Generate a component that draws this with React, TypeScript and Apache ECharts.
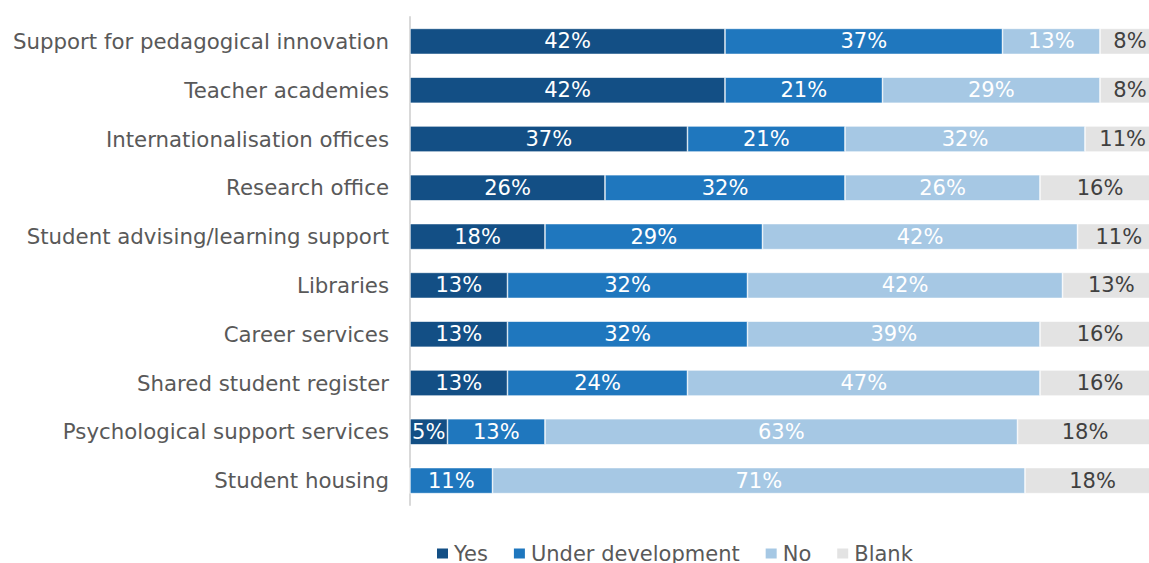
import React, { useEffect, useRef } from "react";
import * as echarts from "echarts";

const categories = [
  "Support for pedagogical innovation",
  "Teacher academies",
  "Internationalisation offices",
  "Research office",
  "Student advising/learning support",
  "Libraries",
  "Career services",
  "Shared student register",
  "Psychological support services",
  "Student housing",
];

const seriesNames = ["Yes", "Under development", "No", "Blank"];
const yesValues = [42, 42, 37, 26, 18, 13, 13, 13, 5, 0];
const underDevValues = [37, 21, 21, 32, 29, 32, 32, 24, 13, 11];
const noValues = [13, 29, 32, 26, 42, 42, 39, 47, 63, 71];
const blankValues = [8, 8, 11, 16, 11, 13, 16, 16, 18, 18];

const colors = ["#134f85", "#1f77be", "#a6c8e4", "#e3e3e3"];
const labelColors = ["#ffffff", "#ffffff", "#ffffff", "#404040"];

export default function App() {
  const ref = useRef<HTMLDivElement>(null);
  useEffect(() => {
    document.body.style.margin = "0";
    document.body.style.overflow = "hidden";
    const chart = echarts.init(ref.current!, null, { renderer: "svg" });
    const values = [yesValues, underDevValues, noValues, blankValues];
    chart.setOption({
      animation: false,
      textStyle: { fontFamily: "DejaVu Sans" },
      grid: { left: 410, right: 0, top: 17, bottom: 58, containLabel: false },
      legend: {
        top: 543,
        left: 435,
        padding: 0,
        icon: "rect",
        itemWidth: 13,
        itemHeight: 12,
        itemGap: 24,
        textStyle: { fontSize: 21, color: "#595959", fontFamily: "DejaVu Sans" },
        data: seriesNames,
      },
      xAxis: {
        type: "value",
        min: 0,
        max: 100,
        show: false,
      },
      yAxis: {
        type: "category",
        inverse: true,
        data: categories,
        axisTick: { show: false },
        axisLine: { show: true, lineStyle: { color: "#d9d9d9", width: 2 } },
        axisLabel: { color: "#595959", fontSize: 21.3, margin: 21, fontFamily: "DejaVu Sans" },
        splitLine: { show: false },
      },
      series: seriesNames.map((name, i) => ({
        name,
        type: "bar",
        stack: "total",
        barWidth: 26,
        data: values[i],
        itemStyle: { color: colors[i], borderColor: "#ffffff", borderWidth: 0.6 },
        label: {
          show: true,
          position: "inside",
          color: labelColors[i],
          fontSize: 21,
          fontFamily: "DejaVu Sans",
          formatter: (p: any) => (p.value ? p.value + "%" : ""),
        },
      })),
    });
    return () => chart.dispose();
  }, []);
  return <div ref={ref} style={{ width: 1160, height: 563 }} />;
}
